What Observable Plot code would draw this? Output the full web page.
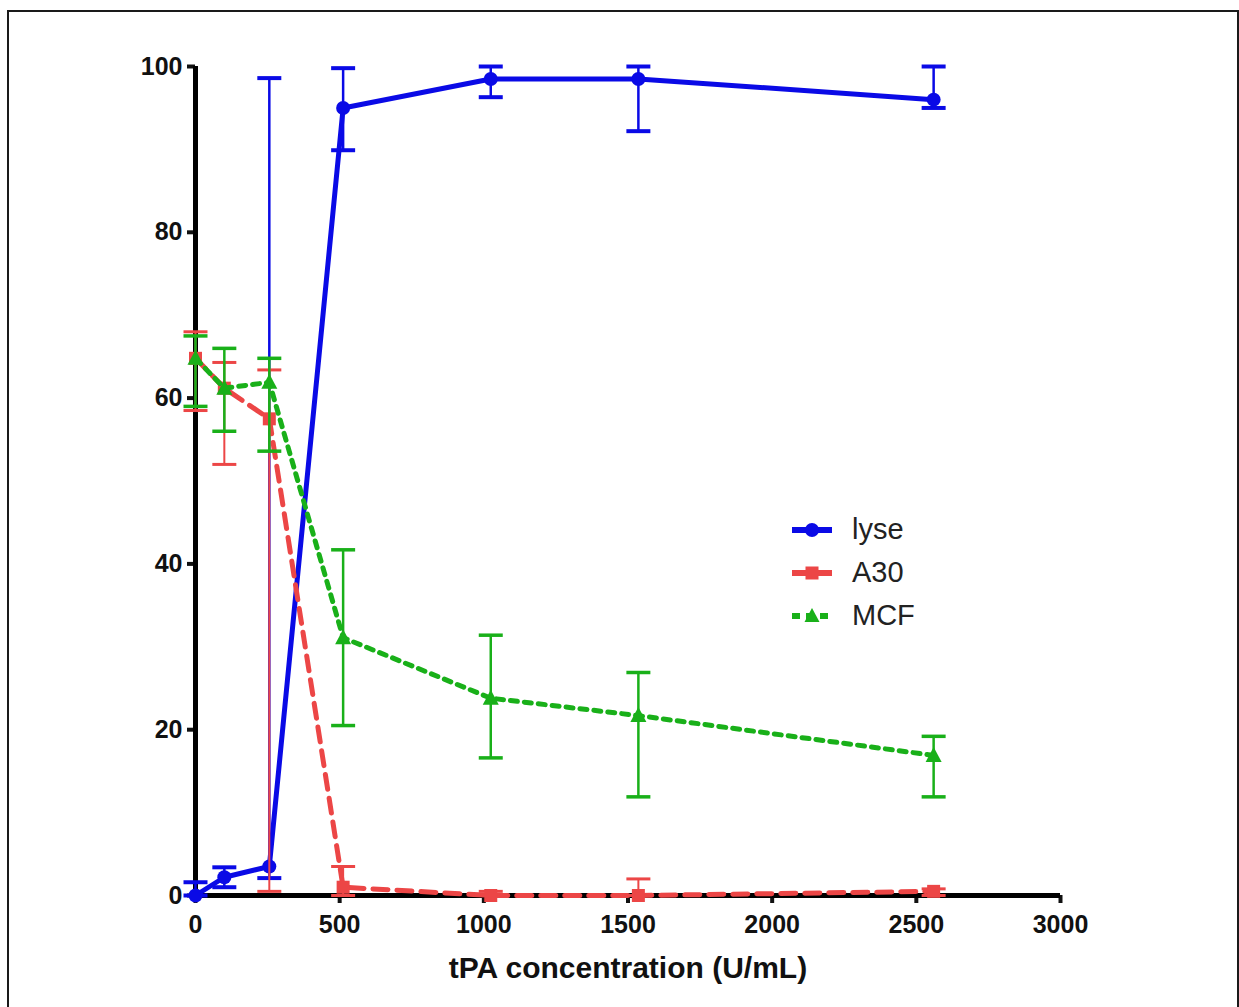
<!DOCTYPE html>
<html>
<head>
<meta charset="utf-8">
<script src="https://cdn.jsdelivr.net/npm/d3@7"></script>
<script src="https://cdn.jsdelivr.net/npm/@observablehq/plot@0.6"></script>
<style>
  html, body { margin: 0; padding: 0; background: #fff; }
  #wrap { position: relative; width: 1239px; height: 1007px; overflow: hidden; font-family: "Liberation Sans", Arial, sans-serif; }
  #frame { position: absolute; left: 7px; top: 10px; width: 1240px; height: 1010px; border-left: 2px solid #1a1a1a; border-top: 2px solid #1a1a1a; border-right: 2px solid #1a1a1a; box-sizing: border-box; pointer-events: none; }
  #frame2 { position: absolute; right: 0px; top: 10px; width: 2px; height: 1000px; background: #1a1a1a; }
  #legend { position: absolute; left: 790px; top: 508px; }
  .item { display: flex; align-items: center; height: 43px; }
  .item span { font-size: 29px; color: #222; margin-left: 18px; }
</style>
</head>
<body>
<div id="wrap">
  <div id="chart"></div>
  <div id="frame"></div>
  <div id="frame2"></div>
  <div id="legend"></div>
</div>
<script>
// tPA concentration (U/mL)
const concentrations = [0, 100, 256, 512, 1024, 1536, 2560];

const lyseMean = [0, 2.2, 3.5, 95, 98.5, 98.5, 96];
const lyseLow  = [0, 1.0, 2.1, 89.9, 96.3, 92.2, 95];
const lyseHigh = [1.6, 3.4, 98.6, 99.8, 100, 100, 100];

const a30Mean = [64.8, 61.2, 57.5, 1.0, 0, 0, 0.5];
const a30Low  = [58.5, 52.0, 0.5, 0, 0, 0, 0];
const a30High = [68.0, 64.3, 63.4, 3.5, 0.5, 2.0, 0.8];

const mcfMean = [64.8, 61.2, 61.9, 31.1, 23.8, 21.7, 16.9];
const mcfLow  = [59.0, 56.0, 53.6, 20.5, 16.6, 11.9, 11.9];
const mcfHigh = [67.5, 66.0, 64.8, 41.7, 31.4, 26.9, 19.2];

const xTicks = [0, 500, 1000, 1500, 2000, 2500, 3000];
const yTicks = [0, 20, 40, 60, 80, 100];
const seriesNames = ["lyse", "A30", "MCF"];

const colors = { lyse: "#0a0ae6", A30: "#ec4646", MCF: "#19b019" };

function build(name, mean, low, high) {
  return concentrations.map((c, i) => ({ name, x: c, y: mean[i], lo: low[i], hi: high[i] }));
}
const lyse = build("lyse", lyseMean, lyseLow, lyseHigh);
const a30 = build("A30", a30Mean, a30Low, a30High);
const mcf = build("MCF", mcfMean, mcfLow, mcfHigh);

function cap(half) {
  return { draw(ctx) { ctx.moveTo(-half, 0); ctx.lineTo(half, 0); } };
}
const square = { draw(ctx) { ctx.rect(-6.5, -6.5, 13, 13); } };
const tri = { draw(ctx) { ctx.moveTo(0, -8.5); ctx.lineTo(8, 6.5); ctx.lineTo(-8, 6.5); ctx.closePath(); } };

function errorMarks(data, color, w, capW) {
  return [
    Plot.ruleX(data, { x: "x", y1: "lo", y2: "hi", stroke: color, strokeWidth: w }),
    Plot.dot(data, { x: "x", y: "lo", symbol: cap(12), stroke: color, strokeWidth: capW }),
    Plot.dot(data, { x: "x", y: "hi", symbol: cap(12), stroke: color, strokeWidth: capW })
  ];
}

const chart = Plot.plot({
  width: 1239,
  height: 1007,
  marginLeft: 195,
  marginRight: 179,
  marginTop: 66,
  marginBottom: 112,
  style: { fontFamily: "'Liberation Sans', Arial, sans-serif", fontSize: "25px", fontWeight: "bold", color: "#111", background: "transparent" },
  x: { domain: [0, 3000] },
  y: { domain: [0, 100] },
  marks: [
    Plot.axisX({ ticks: xTicks, tickFormat: d => String(d), tickSize: 8, tickPadding: 12, strokeWidth: 4, label: null, fontSize: 25 }),
    Plot.axisX({ ticks: [], label: "tPA concentration (U/mL)", labelAnchor: "center", labelArrow: "none", labelOffset: 82, fontSize: 30 }),
    Plot.axisY({ ticks: yTicks, tickFormat: d => String(d), tickSize: 8, tickPadding: 5, strokeWidth: 4, label: null, fontSize: 25 }),
    Plot.ruleY([0], { stroke: "#000", strokeWidth: 5 }),
    Plot.ruleX([0], { stroke: "#000", strokeWidth: 5 }),
    // lyse
    ...errorMarks(lyse, colors.lyse, 2.5, 4),
    Plot.line(lyse, { x: "x", y: "y", stroke: colors.lyse, strokeWidth: 5 }),
    Plot.dot(lyse, { x: "x", y: "y", r: 7, fill: colors.lyse }),
    // A30
    ...errorMarks(a30, colors.A30, 2, 3),
    Plot.line(a30, { x: "x", y: "y", stroke: colors.A30, strokeWidth: 5, strokeDasharray: "15,9" }),
    Plot.dot(a30, { x: "x", y: "y", symbol: square, fill: colors.A30 }),
    // MCF
    ...errorMarks(mcf, colors.MCF, 2.5, 3.5),
    Plot.line(mcf, { x: "x", y: "y", stroke: colors.MCF, strokeWidth: 5, strokeDasharray: "7,7" }),
    Plot.dot(mcf, { x: "x", y: "y", symbol: tri, fill: colors.MCF })
  ]
});
document.getElementById("chart").appendChild(chart);

// legend
const legend = document.getElementById("legend");
const swatchDefs = {
  lyse: `<line x1="2" y1="12" x2="42" y2="12" stroke="${colors.lyse}" stroke-width="6"/><circle cx="22" cy="12" r="7" fill="${colors.lyse}"/>`,
  A30: `<line x1="2" y1="12" x2="42" y2="12" stroke="${colors.A30}" stroke-width="6"/><rect x="15.5" y="5.5" width="13" height="13" fill="${colors.A30}"/>`,
  MCF: `<line x1="2" y1="12" x2="42" y2="12" stroke="${colors.MCF}" stroke-width="6" stroke-dasharray="8,6"/><path d="M22,4 L29.5,18 L14.5,18 Z" fill="${colors.MCF}"/>`
};
seriesNames.forEach(n => {
  const div = document.createElement("div");
  div.className = "item";
  div.innerHTML = `<svg width="44" height="24">${swatchDefs[n]}</svg><span>${n}</span>`;
  legend.appendChild(div);
});
</script>
</body>
</html>
